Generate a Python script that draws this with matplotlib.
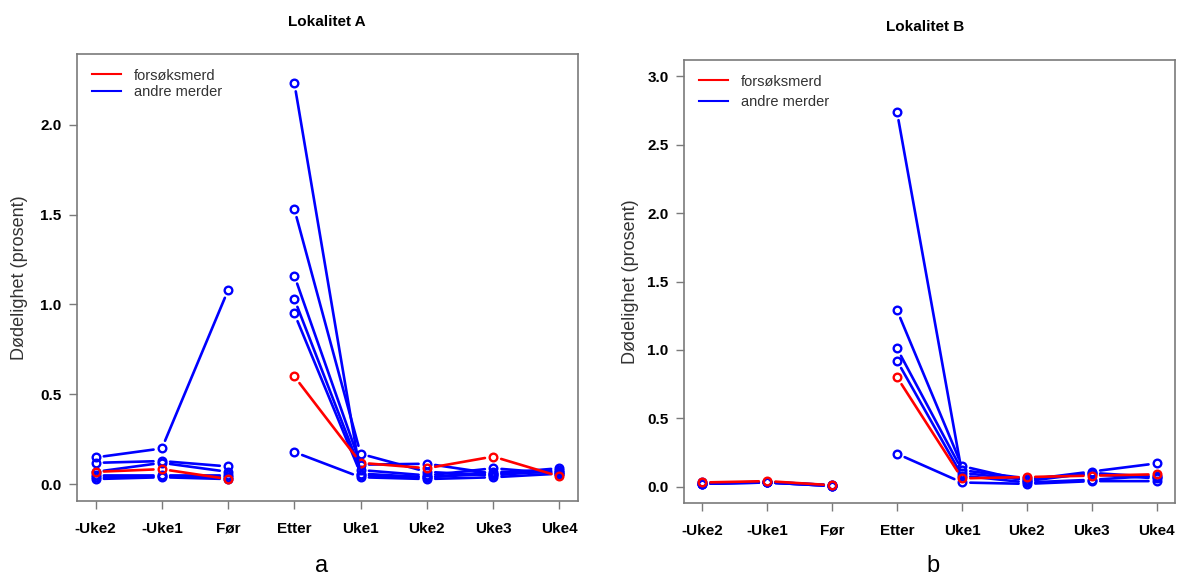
import matplotlib
matplotlib.use('Agg')
import matplotlib.pyplot as plt
from matplotlib.lines import Line2D

plt.rcParams['font.family'] = ['Liberation Sans', 'DejaVu Sans']

# Tidspunkt for registrering
tidspunkt = ['-Uke2', '-Uke1', 'Før', 'Etter', 'Uke1', 'Uke2', 'Uke3', 'Uke4']

# Lokalitet A - dødelighet i prosent
a_forsok = [0.07, 0.085, 0.03, 0.60, 0.12, 0.09, 0.155, 0.045]
a_andre = [
    [0.15, 0.20, 1.08, 2.23, 0.05, 0.04, 0.06, 0.07],
    [0.12, 0.13, 0.10, 1.53, 0.17, 0.07, 0.05, 0.08],
    [0.07, 0.12, 0.07, 1.16, 0.11, 0.115, 0.06, 0.09],
    [0.05, 0.05, 0.05, 1.03, 0.08, 0.05, 0.09, 0.06],
    [0.04, 0.045, 0.04, 0.95, 0.06, 0.04, 0.07, 0.07],
    [0.03, 0.04, 0.03, 0.18, 0.04, 0.03, 0.04, 0.06],
]

# Lokalitet B - dødelighet i prosent
b_forsok = [0.03, 0.04, 0.01, 0.80, 0.06, 0.07, 0.08, 0.09]
b_andre = [
    [0.03, 0.03, 0.005, 2.74, 0.10, 0.05, 0.11, 0.17],
    [0.02, 0.035, 0.01, 1.29, 0.15, 0.04, 0.10, 0.07],
    [0.02, 0.03, 0.005, 1.01, 0.12, 0.06, 0.09, 0.06],
    [0.025, 0.035, 0.01, 0.92, 0.08, 0.03, 0.05, 0.08],
    [0.02, 0.03, 0.005, 0.24, 0.03, 0.02, 0.04, 0.04],
]

RAMME = '#7a7a7a'


def tegn_serie(ax, verdier, farge):
    x = list(range(1, len(verdier) + 1))
    # ingen linje mellom Før og Etter
    for deler in ([0, 1, 2], [3, 4, 5, 6, 7]):
        for i, j in zip(deler[:-1], deler[1:]):
            ax.annotate('', xy=(x[j], verdier[j]), xytext=(x[i], verdier[i]),
                        arrowprops=dict(arrowstyle='-', color=farge, lw=1.9,
                                        shrinkA=6, shrinkB=6))
    ax.plot(x, verdier, ls='none', marker='o', ms=5.5, mfc='none',
            mec=farge, mew=1.7)


def sett_opp_akse(ax, ylim, yticks, labelspacing, label_x):
    ax.set_xlim(0.72, 8.28)
    ax.set_ylim(*ylim)
    ax.set_xticks(range(1, 9))
    ax.set_xticklabels(tidspunkt, fontweight='bold', fontsize=11)
    ax.set_yticks(yticks)
    ax.set_yticklabels(['%.1f' % t for t in yticks], fontweight='bold', fontsize=11)
    ax.tick_params(length=6, width=1, color=RAMME, pad=5)
    ax.tick_params(axis='x', pad=9)
    for s in ax.spines.values():
        s.set_color(RAMME)
        s.set_linewidth(1.2)
    ax.set_ylabel('Dødelighet (prosent)', fontsize=13, color='#333333')
    ax.yaxis.set_label_coords(label_x, 0.5)
    handles = [Line2D([], [], color='red', lw=1.5),
               Line2D([], [], color='blue', lw=1.5)]
    ax.legend(handles, ['forsøksmerd', 'andre merder'], loc='upper left',
              bbox_to_anchor=(0.0, 1.0), frameon=False, fontsize=10.5,
              handlelength=2.0, handletextpad=0.9, labelspacing=labelspacing,
              labelcolor='#333333', borderaxespad=0.6)


fig = plt.figure(figsize=(11.84, 5.81), dpi=100)
ax_a = fig.add_axes([77 / 1184, 1 - 501 / 581, 501 / 1184, 447 / 581])
ax_b = fig.add_axes([684 / 1184, 1 - 503 / 581, 491 / 1184, 443 / 581])

for serie in a_andre:
    tegn_serie(ax_a, serie, 'blue')
tegn_serie(ax_a, a_forsok, 'red')
sett_opp_akse(ax_a, (-0.092, 2.392), [0, 0.5, 1.0, 1.5, 2.0], 0.15, -0.098)

for serie in b_andre:
    tegn_serie(ax_b, serie, 'blue')
tegn_serie(ax_b, b_forsok, 'red')
sett_opp_akse(ax_b, (-0.12, 3.12), [0, 0.5, 1.0, 1.5, 2.0, 2.5, 3.0], 0.45, -0.092)

fig.text(327 / 1184, 1 - 22 / 581, 'Lokalitet A', ha='center', va='center',
         fontweight='bold', fontsize=11)
fig.text(925 / 1184, 1 - 27 / 581, 'Lokalitet B', ha='center', va='center',
         fontweight='bold', fontsize=11)
fig.text(322 / 1184, 1 - 566 / 581, 'a', ha='center', va='center', fontsize=17)
fig.text(933 / 1184, 1 - 566 / 581, 'b', ha='center', va='center', fontsize=17)

fig.savefig('out.png', dpi=100)
